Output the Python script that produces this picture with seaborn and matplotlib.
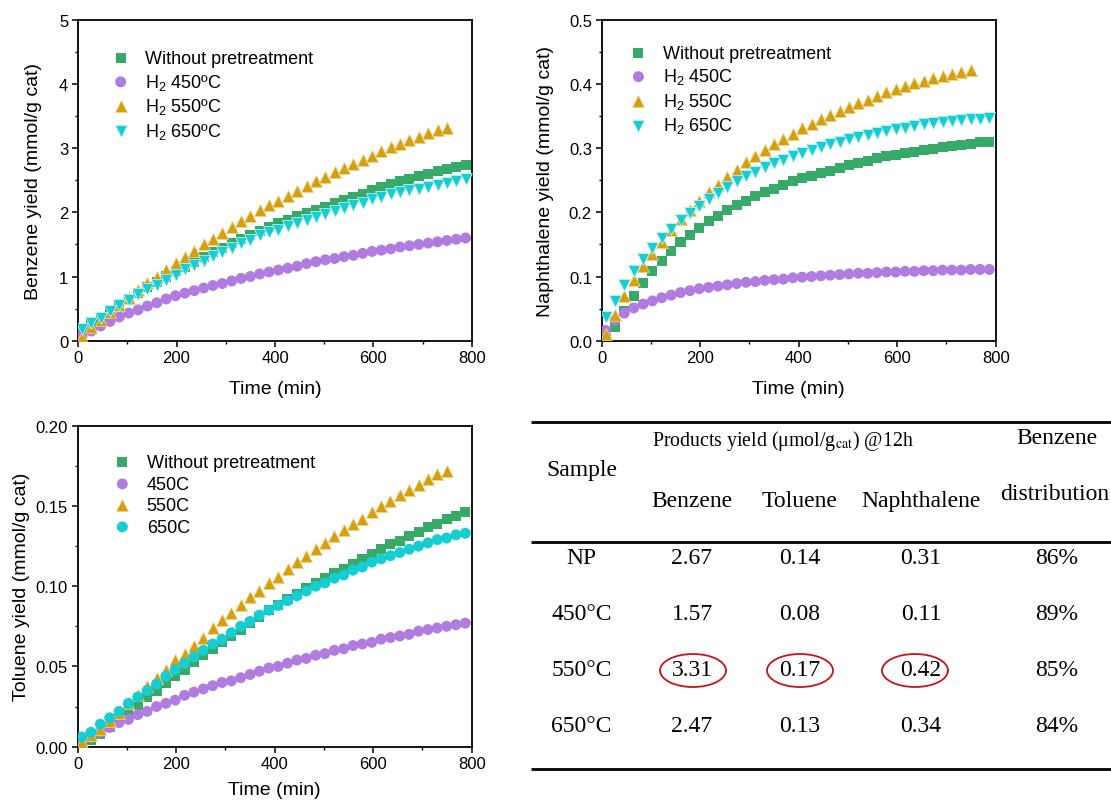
import matplotlib
matplotlib.use("Agg")
import matplotlib.pyplot as plt
import seaborn as sns
from matplotlib.patches import Ellipse
from matplotlib.ticker import MultipleLocator, FormatStrFormatter

# ---------------- data ----------------
time_min = [8, 27, 46, 65, 84, 103, 122, 141, 160, 179, 198, 217, 236, 255, 274, 293,
            312, 331, 350, 369, 388, 407, 426, 445, 464, 483, 502, 521, 540, 559, 578,
            597, 616, 635, 654, 673, 692, 711, 730, 749, 768, 787]
time_550 = time_min[:40]

benz_np = [0.12, 0.26, 0.35, 0.45, 0.55, 0.65, 0.74, 0.83, 0.92, 1.00, 1.08, 1.15, 1.23, 1.30,
           1.38, 1.45, 1.52, 1.58, 1.65, 1.71, 1.77, 1.83, 1.88, 1.94, 1.99, 2.04, 2.09, 2.14,
           2.19, 2.24, 2.29, 2.34, 2.39, 2.44, 2.48, 2.52, 2.56, 2.60, 2.64, 2.67, 2.71, 2.74]
benz_450 = [0.07, 0.15, 0.23, 0.30, 0.37, 0.43, 0.48, 0.54, 0.59, 0.65, 0.70, 0.74, 0.78, 0.82,
            0.86, 0.89, 0.93, 0.97, 1.00, 1.04, 1.07, 1.10, 1.13, 1.16, 1.20, 1.23, 1.26, 1.28,
            1.31, 1.33, 1.36, 1.39, 1.41, 1.43, 1.46, 1.48, 1.50, 1.52, 1.54, 1.56, 1.58, 1.60]
benz_550 = [0.06, 0.22, 0.33, 0.45, 0.56, 0.67, 0.79, 0.90, 1.00, 1.10, 1.21, 1.30, 1.40, 1.50,
            1.59, 1.68, 1.77, 1.86, 1.94, 2.03, 2.11, 2.18, 2.26, 2.33, 2.41, 2.48, 2.55, 2.62,
            2.69, 2.75, 2.82, 2.88, 2.95, 3.01, 3.07, 3.13, 3.18, 3.23, 3.28, 3.32]
benz_650 = [0.18, 0.28, 0.36, 0.46, 0.56, 0.64, 0.73, 0.80, 0.86, 0.95, 1.03, 1.11, 1.18, 1.24,
            1.32, 1.38, 1.45, 1.52, 1.57, 1.64, 1.69, 1.73, 1.78, 1.83, 1.88, 1.93, 1.97, 2.02,
            2.07, 2.11, 2.15, 2.20, 2.24, 2.28, 2.31, 2.34, 2.37, 2.40, 2.43, 2.46, 2.49, 2.52]

naph_np = [0.003, 0.022, 0.047, 0.070, 0.090, 0.108, 0.124, 0.140, 0.153, 0.165, 0.176, 0.186,
           0.194, 0.203, 0.211, 0.218, 0.225, 0.231, 0.237, 0.242, 0.248, 0.253, 0.257, 0.261,
           0.265, 0.269, 0.273, 0.277, 0.280, 0.284, 0.287, 0.289, 0.292, 0.294, 0.297, 0.299,
           0.301, 0.303, 0.305, 0.307, 0.309, 0.310]
naph_450 = [0.016, 0.032, 0.043, 0.051, 0.057, 0.062, 0.067, 0.071, 0.075, 0.078, 0.081, 0.083,
            0.085, 0.087, 0.089, 0.091, 0.092, 0.094, 0.095, 0.096, 0.098, 0.099, 0.100, 0.101,
            0.102, 0.103, 0.104, 0.105, 0.105, 0.106, 0.107, 0.107, 0.108, 0.108, 0.109, 0.109,
            0.110, 0.110, 0.110, 0.111, 0.111, 0.111]
naph_550 = [0.010, 0.040, 0.070, 0.095, 0.117, 0.135, 0.153, 0.173, 0.189, 0.204, 0.218, 0.231,
            0.243, 0.255, 0.266, 0.278, 0.288, 0.297, 0.306, 0.314, 0.322, 0.332, 0.338, 0.346,
            0.352, 0.358, 0.364, 0.370, 0.375, 0.381, 0.387, 0.392, 0.396, 0.401, 0.405, 0.409,
            0.412, 0.416, 0.419, 0.422]
naph_650 = [0.037, 0.062, 0.086, 0.108, 0.127, 0.145, 0.160, 0.174, 0.188, 0.199, 0.210, 0.220,
            0.230, 0.239, 0.248, 0.256, 0.263, 0.271, 0.277, 0.282, 0.287, 0.292, 0.297, 0.302,
            0.306, 0.310, 0.314, 0.318, 0.321, 0.324, 0.327, 0.330, 0.332, 0.335, 0.337, 0.339,
            0.341, 0.342, 0.344, 0.345, 0.346, 0.347]

tol_np = [0.001, 0.004, 0.008, 0.012, 0.017, 0.021, 0.026, 0.031, 0.035, 0.040, 0.044, 0.048,
          0.053, 0.057, 0.061, 0.065, 0.069, 0.073, 0.077, 0.081, 0.085, 0.088, 0.092, 0.095,
          0.099, 0.102, 0.105, 0.108, 0.111, 0.114, 0.117, 0.120, 0.123, 0.126, 0.128, 0.131,
          0.134, 0.137, 0.139, 0.142, 0.144, 0.146]
tol_450 = [0.002, 0.006, 0.009, 0.012, 0.015, 0.017, 0.020, 0.022, 0.025, 0.027, 0.029, 0.032,
           0.034, 0.036, 0.038, 0.040, 0.041, 0.043, 0.045, 0.047, 0.049, 0.050, 0.052, 0.054,
           0.055, 0.057, 0.058, 0.060, 0.061, 0.063, 0.064, 0.065, 0.067, 0.068, 0.069, 0.070,
           0.072, 0.073, 0.074, 0.075, 0.076, 0.077]
tol_550 = [0.003, 0.007, 0.011, 0.016, 0.021, 0.027, 0.032, 0.038, 0.043, 0.048, 0.054, 0.058,
           0.063, 0.068, 0.074, 0.079, 0.083, 0.088, 0.093, 0.097, 0.102, 0.106, 0.111, 0.115,
           0.119, 0.123, 0.127, 0.131, 0.135, 0.139, 0.142, 0.146, 0.150, 0.153, 0.157, 0.160,
           0.163, 0.167, 0.170, 0.172]
tol_650 = [0.006, 0.009, 0.014, 0.018, 0.022, 0.027, 0.031, 0.035, 0.039, 0.044, 0.048, 0.052,
           0.056, 0.060, 0.064, 0.067, 0.071, 0.075, 0.078, 0.082, 0.085, 0.088, 0.091, 0.094,
           0.097, 0.100, 0.102, 0.105, 0.107, 0.110, 0.112, 0.115, 0.117, 0.119, 0.121, 0.123,
           0.125, 0.127, 0.129, 0.130, 0.132, 0.133]

labels_benz = ["Without pretreatment", "H$_\\mathrm{2}$ 450\u00baC", "H$_\\mathrm{2}$ 550\u00baC", "H$_\\mathrm{2}$ 650\u00baC"]
labels_naph = ["Without pretreatment", "H$_\\mathrm{2}$ 450C", "H$_\\mathrm{2}$ 550C", "H$_\\mathrm{2}$ 650C"]
labels_tol = ["Without pretreatment", "450C", "550C", "650C"]

table_samples = ["NP", "450\u00b0C", "550\u00b0C", "650\u00b0C"]
table_benzene = ["2.67", "1.57", "3.31", "2.47"]
table_toluene = ["0.14", "0.08", "0.17", "0.13"]
table_naph = ["0.31", "0.11", "0.42", "0.34"]
table_dist = ["86%", "89%", "85%", "84%"]
highlight_row = 2

# ---------------- style ----------------
sns.set_theme(style="ticks")
plt.rcParams['font.family'] = ['Liberation Sans', 'DejaVu Sans']
plt.rcParams['mathtext.fontset'] = 'custom'
plt.rcParams['mathtext.rm'] = 'Liberation Sans'
plt.rcParams['mathtext.it'] = 'Liberation Sans:italic'
plt.rcParams['mathtext.bf'] = 'Liberation Sans:bold'
for k in ['text.color', 'axes.labelcolor', 'xtick.color', 'ytick.color', 'axes.edgecolor']:
    plt.rcParams[k] = 'black'

C_GREEN = '#37AA69'
C_PURPLE = '#B07CE0'
C_GOLD = '#D3A00F'
C_CYAN = '#16CDD2'

fig = plt.figure(figsize=(11.11, 8.03), dpi=100)

W, H = 1111.0, 803.0
def fig_rect(l, t, r, b):
    return [l / W, 1 - b / H, (r - l) / W, (b - t) / H]

ax1 = fig.add_axes(fig_rect(78, 20.7, 472, 341.7))
ax2 = fig.add_axes(fig_rect(601.7, 20.7, 995.7, 341.7))
ax3 = fig.add_axes(fig_rect(77.7, 426.7, 471.7, 747.7))

def draw_series(ax, ys, labels, last_marker, last_color):
    specs = [
        (time_min, ys[0], 's', C_GREEN, 52, 'none', 0),
        (time_min, ys[1], 'o', C_PURPLE, 62, 'none', 0),
        (time_550, ys[2], '^', C_GOLD, 72, '#F0D080', 0.6),
        (time_min, ys[3], last_marker, last_color,
         72 if last_marker == 'v' else 62,
         '#B8F2F2' if last_marker == 'v' else 'none', 0.6 if last_marker == 'v' else 0),
    ]
    for (tx, ty, m, c, s, ec, lw), lab in zip(specs, labels):
        sns.scatterplot(x=tx, y=ty, marker=m, color=c, s=s, edgecolor=ec,
                        linewidth=lw, label=lab, ax=ax, zorder=3)

def style_axes(ax, ymax, ymaj, ymin, fmt, ylabel, ylab_x, xlab_y):
    ax.set_xlim(0, 800)
    ax.set_ylim(0, ymax)
    ax.xaxis.set_major_locator(MultipleLocator(200))
    ax.xaxis.set_minor_locator(MultipleLocator(100))
    ax.yaxis.set_major_locator(MultipleLocator(ymaj))
    ax.yaxis.set_minor_locator(MultipleLocator(ymin))
    ax.yaxis.set_major_formatter(FormatStrFormatter(fmt))
    for sp in ax.spines.values():
        sp.set_visible(True)
        sp.set_linewidth(1.3)
        sp.set_color('black')
    ax.tick_params(which='major', direction='out', length=4, width=1.1,
                   labelsize=12, pad=3, top=False, right=False)
    ax.tick_params(which='minor', direction='out', length=2.5, width=1.0,
                   top=False, right=False)
    ax.set_xlabel("Time (min)", fontsize=14)
    ax.set_ylabel(ylabel, fontsize=14)
    ax.yaxis.set_label_coords(ylab_x, 0.5)
    ax.xaxis.set_label_coords(0.5, xlab_y)
    ax.grid(False)

draw_series(ax1, [benz_np, benz_450, benz_550, benz_650], labels_benz, 'v', C_CYAN)
draw_series(ax2, [naph_np, naph_450, naph_550, naph_650], labels_naph, 'v', C_CYAN)
draw_series(ax3, [tol_np, tol_450, tol_550, tol_650], labels_tol, 'o', C_CYAN)

style_axes(ax1, 5, 1, 0.5, '%d', "Benzene yield (mmol/g cat)", -0.092, -0.121)
style_axes(ax2, 0.5, 0.1, 0.05, '%.1f', "Naphthalene yield (mmol/g cat)", -0.12, -0.121)
style_axes(ax3, 0.20, 0.05, 0.025, '%.2f', "Toluene yield (mmol/g cat)", -0.122, -0.106)

leg_kw = dict(loc='upper left', frameon=False, fontsize=13, handlelength=1.0,
              handletextpad=0.85, labelspacing=0.25, borderaxespad=0, borderpad=0.4)
ax1.legend(bbox_to_anchor=(0.067, 0.928), **leg_kw)
ax2.legend(bbox_to_anchor=(0.052, 0.944), **leg_kw)
ax3.legend(bbox_to_anchor=(0.072, 0.934), **leg_kw)

# ---------------- table ----------------
axt = fig.add_axes([0, 0, 1, 1])
axt.set_xlim(0, W)
axt.set_ylim(H, 0)
axt.axis('off')

serif = ['Liberation Serif', 'DejaVu Serif']
tfs = 17
for y in [422.5, 543, 770]:
    axt.plot([531, W], [y, y], color='black', lw=2.0, solid_capstyle='butt')

axt.text(581.5, 471, "Sample", family=serif, fontsize=tfs, ha='center', va='center')
axt.text(783, 441, "Products yield (\u03bcmol/g$_\\mathrm{cat}$) @12h", family=serif,
         fontsize=14.3, ha='center', va='center', math_fontfamily='stix')
axt.text(1057, 439, "Benzene", family=serif, fontsize=tfs, ha='center', va='center')
axt.text(1055, 495, "distribution", family=serif, fontsize=tfs, ha='center', va='center')

col_x = [581.5, 692, 800, 921, 1057]
axt.text(col_x[1], 502, "Benzene", family=serif, fontsize=tfs, ha='center', va='center')
axt.text(col_x[2], 502, "Toluene", family=serif, fontsize=tfs, ha='center', va='center')
axt.text(col_x[3], 502, "Naphthalene", family=serif, fontsize=tfs, ha='center', va='center')

row_y = [559, 615, 671, 727]
for i, y in enumerate(row_y):
    vals = [table_samples[i], table_benzene[i], table_toluene[i], table_naph[i], table_dist[i]]
    for x, v in zip(col_x, vals):
        axt.text(x, y, v, family=serif, fontsize=tfs, ha='center', va='center')

ell_x = [693, 800, 915]
for x in ell_x:
    axt.add_patch(Ellipse((x, row_y[highlight_row] + 0.5), 66, 33, fill=False,
                          edgecolor='#C81414', lw=1.3))

fig.savefig("out.png", dpi=100)
